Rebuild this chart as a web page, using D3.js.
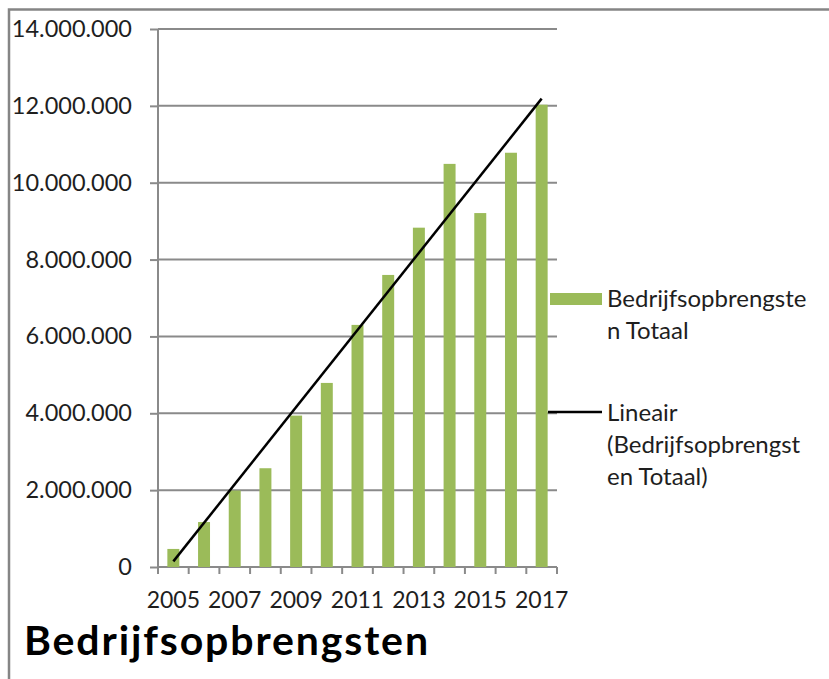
<!DOCTYPE html>
<html><head><meta charset="utf-8">
<script src="https://cdn.jsdelivr.net/npm/d3@7"></script>
<style>
html,body{margin:0;padding:0;background:#fff;}
svg{display:block;font-family:Lato,"Open Sans",sans-serif;}
</style></head>
<body>
<svg id="c" width="829" height="679"></svg>
<script>
const years = [2005,2006,2007,2008,2009,2010,2011,2012,2013,2014,2015,2016,2017];
const revenue = [470000,1170000,1990000,2570000,3940000,4790000,6300000,7600000,8830000,10490000,9210000,10780000,12030000];
const yTicks = [0,2000000,4000000,6000000,8000000,10000000,12000000,14000000];
const xTickLabels = [2005,2007,2009,2011,2013,2015,2017];
const legendBar = ["Bedrijfsopbrengste","n Totaal"];
const legendLine = ["Lineair","(Bedrijfsopbrengst","en Totaal)"];
const title = "Bedrijfsopbrengsten";

const svg = d3.select("#c");
const grid = "#8a8a8a", txt = "#1e1e1e", green = "#9bbb59";
const m = {left:158, right:557, top:29, bottom:567};

// frame
svg.append("path").attr("d","M9,690 V9.5 H840").attr("fill","none").attr("stroke","#858585").attr("stroke-width",2.5);

const x = d3.scaleBand().domain(years).range([m.left,m.right]).paddingInner(0.61).paddingOuter(0.305);
const xb = d3.scaleBand().domain(years).range([m.left,m.right]);
const y = d3.scaleLinear().domain([0,14000000]).range([m.bottom,m.top]);

const fmt = v => d3.format(",")(v).replace(/,/g,".");

// gridlines + y axis
const ya = svg.append("g").attr("transform",`translate(${m.left},0)`)
  .call(d3.axisLeft(y).tickValues(yTicks).tickSize(8).tickPadding(18).tickFormat(fmt));
ya.select(".domain").remove();
ya.selectAll(".tick line").attr("stroke",grid).attr("stroke-width",2);
ya.selectAll(".tick text").attr("fill",txt).attr("font-size",23.5).attr("font-family","Lato");
svg.append("g").selectAll("line").data(yTicks).join("line")
  .attr("x1",m.left).attr("x2",m.right).attr("y1",d=>y(d)).attr("y2",d=>y(d))
  .attr("stroke",grid).attr("stroke-width",2);
svg.append("line").attr("x1",m.left).attr("x2",m.left).attr("y1",m.top).attr("y2",m.bottom+7)
  .attr("stroke",grid).attr("stroke-width",2);

// x axis ticks at band boundaries
const bounds = years.map(d=>xb(d)).concat([m.right]);
svg.append("g").selectAll("line").data(bounds).join("line")
  .attr("x1",d=>d).attr("x2",d=>d).attr("y1",m.bottom).attr("y2",m.bottom+7)
  .attr("stroke",grid).attr("stroke-width",2);
svg.append("g").selectAll("text").data(xTickLabels).join("text")
  .attr("x",d=>xb(d)+xb.bandwidth()/2).attr("y",608)
  .attr("text-anchor","middle").attr("fill",txt).attr("font-size",23).text(d=>d);

// bars
svg.append("g").selectAll("rect").data(years).join("rect")
  .attr("x",d=>x(d)).attr("width",x.bandwidth())
  .attr("y",(d,i)=>y(revenue[i])).attr("height",(d,i)=>y(0)-y(revenue[i]))
  .attr("fill",green);

// linear trendline (least squares)
const n = years.length;
const mx = d3.mean(d3.range(n)), my = d3.mean(revenue);
const sxy = d3.sum(d3.range(n), i=>(i-mx)*(revenue[i]-my));
const sxx = d3.sum(d3.range(n), i=>(i-mx)*(i-mx));
const slope = sxy/sxx, icpt = my - slope*mx;
const cx = i => xb(years[0]) + xb.bandwidth()*(i+0.5);
svg.append("line").attr("x1",cx(0)).attr("y1",y(icpt))
  .attr("x2",cx(n-1)).attr("y2",y(icpt+slope*(n-1)))
  .attr("stroke","#000").attr("stroke-width",2.5);

// legend
svg.append("rect").attr("x",550).attr("y",293).attr("width",52).attr("height",12).attr("fill",green);
svg.append("g").selectAll("text").data(legendBar).join("text")
  .attr("x",607).attr("y",(d,i)=>307+i*32).attr("fill",txt).attr("font-size",24).text(d=>d);
svg.append("line").attr("x1",548).attr("x2",602).attr("y1",412).attr("y2",412).attr("stroke","#000").attr("stroke-width",2.5);
svg.append("g").selectAll("text").data(legendLine).join("text")
  .attr("x",607).attr("y",(d,i)=>421+i*32).attr("fill",txt).attr("font-size",24).text(d=>d);

// title
svg.append("text").attr("x",24).attr("y",655).attr("fill","#000")
  .attr("font-size",41).attr("font-weight","bold")
  .attr("textLength",404).attr("lengthAdjust","spacing").text(title);
</script>
</body></html>
